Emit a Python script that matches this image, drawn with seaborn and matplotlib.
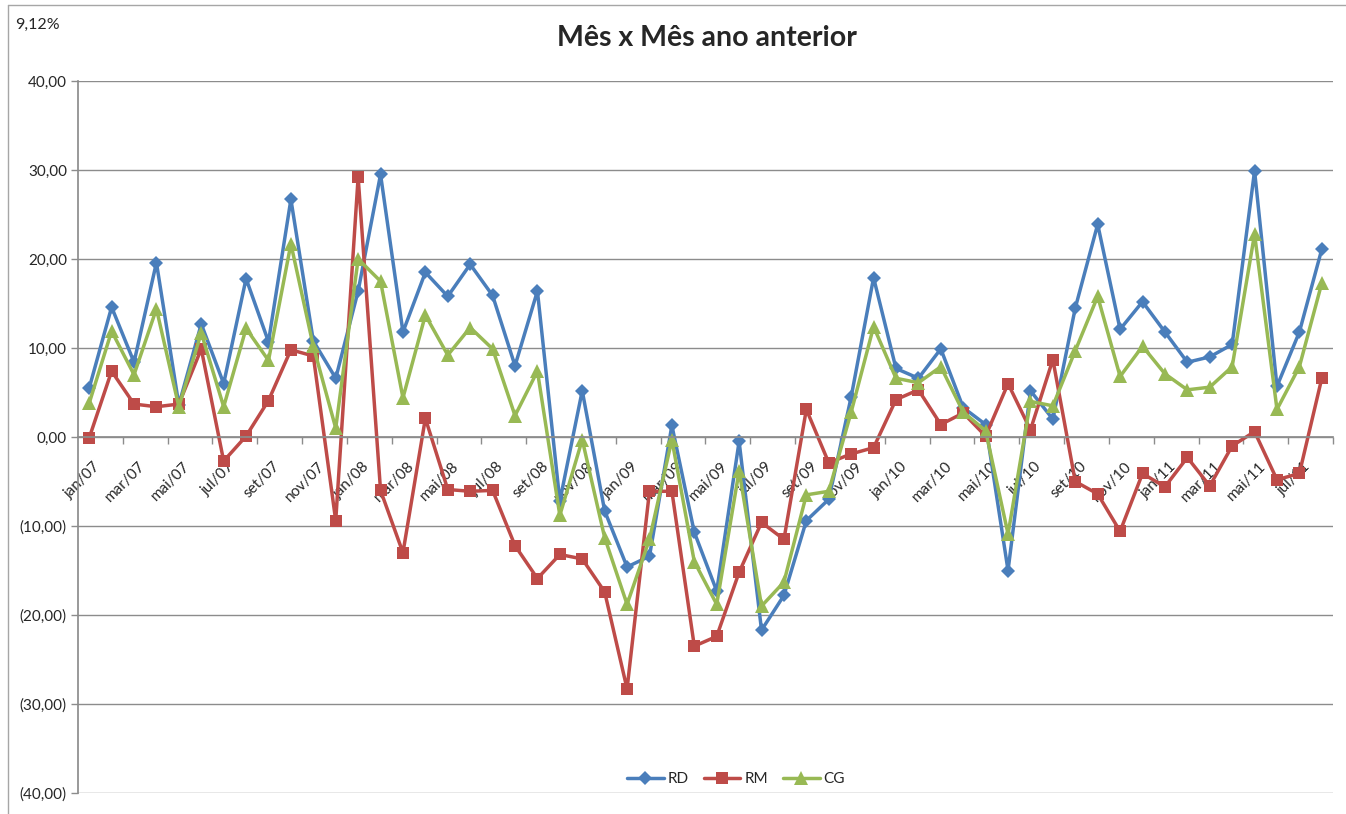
import numpy as np
import pandas as pd
import matplotlib
matplotlib.use("Agg")
import matplotlib.pyplot as plt
import matplotlib.transforms as mtransforms
from matplotlib.lines import Line2D
from matplotlib.ticker import FuncFormatter
import seaborn as sns

# ---- dados ----
meses = ["jan", "fev", "mar", "abr", "mai", "jun", "jul", "ago", "set", "out", "nov", "dez"]
anos = ["07", "08", "09", "10", "11"]
periodos = [f"{m}/{a}" for a in anos for m in meses][:56]  # jan/07 .. ago/11

rd = [5.5, 14.6, 8.4, 19.6, 3.6, 12.7, 6.0, 17.8, 10.7, 26.7,
      10.8, 6.6, 16.4, 29.5, 11.8, 18.5, 15.8, 19.4, 15.9, 8.0,
      16.4, -7.2, 5.2, -8.3, -14.6, -13.4, 1.3, -10.7, -17.3, -0.5,
      -21.7, -17.8, -9.4, -7.0, 4.5, 17.9, 7.7, 6.6, 9.9, 3.3,
      1.4, -15.0, 5.2, 2.0, 14.5, 23.9, 12.1, 15.2, 11.8, 8.4,
      9.0, 10.4, 29.9, 5.7, 11.8, 21.1]
rm = [-0.1, 7.4, 3.7, 3.4, 3.7, 9.9, -2.7, 0.1, 4.1, 9.8,
      9.1, -9.4, 29.2, -6.0, -13.0, 2.1, -5.9, -6.1, -6.0, -12.2,
      -15.9, -13.2, -13.7, -17.4, -28.3, -6.1, -6.1, -23.5, -22.4, -15.2,
      -9.6, -11.5, 3.1, -2.9, -1.9, -1.2, 4.2, 5.3, 1.4, 2.7,
      0.1, 6.0, 0.8, 8.7, -5.0, -6.4, -10.6, -4.1, -5.6, -2.3,
      -5.5, -1.0, 0.6, -4.8, -4.1, 6.6]
cg = [3.8, 11.9, 7.0, 14.4, 3.4, 11.7, 3.4, 12.2, 8.6, 21.7,
      10.2, 1.0, 20.0, 17.5, 4.4, 13.7, 9.2, 12.3, 9.9, 2.4,
      7.4, -8.8, -0.3, -11.3, -18.8, -11.5, -0.3, -14.0, -18.8, -3.8,
      -19.0, -16.3, -6.5, -6.1, 2.8, 12.4, 6.6, 6.1, 7.9, 2.8,
      0.7, -10.9, 4.0, 3.5, 9.7, 15.8, 6.8, 10.2, 7.1, 5.3,
      5.6, 7.9, 22.8, 3.1, 7.9, 17.3]

series = ["RD", "RM", "CG"]
cores = {"RD": "#4A7EBB", "RM": "#BE4B48", "CG": "#98B954"}
marcadores = {"RD": "D", "RM": "s", "CG": "^"}
tamanhos = {"RD": 7.5, "RM": 8.5, "CG": 9.5}

df = pd.DataFrame({"idx": np.arange(len(periodos)), "periodo": periodos,
                   "RD": rd, "RM": rm, "CG": cg})
df_long = df.melt(id_vars=["idx", "periodo"], value_vars=series,
                  var_name="serie", value_name="valor")

sns.set_theme(style="white")
plt.rcParams["font.family"] = ["Lato", "DejaVu Sans"]

W, H = 1346, 814
fig = plt.figure(figsize=(W / 100, H / 100), dpi=100)
ax = fig.add_axes([78 / W, 1 - 793 / H, (1333 - 78) / W, (793 - 81) / H])

for s in series:
    sns.lineplot(data=df_long[df_long["serie"] == s], x="idx", y="valor",
                 color=cores[s], marker=marcadores[s], markersize=tamanhos[s],
                 markeredgewidth=0, linewidth=2.5, label=s, ax=ax, legend=False)

# eixo x cruzando no zero (antes de mexer nos ticks, set_position reseta)
ax.spines["top"].set_visible(False)
ax.spines["right"].set_visible(False)
ax.spines["left"].set_color("#8c8c8c")
ax.spines["bottom"].set_color("#8c8c8c")
ax.spines["bottom"].set_position(("data", 0))

ax.set_xlim(-0.5, len(periodos) - 0.5)
ax.set_ylim(-40, 40)
ax.set_yticks(np.arange(-40, 41, 10))


def fmt_br(v, pos):
    txt = f"{abs(v):.2f}".replace(".", ",")
    return f"({txt})" if v < 0 else txt


ax.yaxis.set_major_formatter(FuncFormatter(fmt_br))
ax.yaxis.grid(True, color="#8c8c8c", linewidth=1)
ax.xaxis.grid(False)

ax.set_xticks(df["idx"][::2])
ax.set_xticklabels(df["periodo"][::2], fontsize=11)
ax.set_xticks(np.arange(1.5, len(periodos), 2), minor=True)
ax.tick_params(axis="x", which="major", length=0, pad=16)
ax.tick_params(axis="x", which="minor", bottom=True, length=5, width=1,
               color="#8c8c8c", direction="out")
ax.tick_params(axis="y", left=True, length=5, width=1, color="#8c8c8c",
               direction="out", labelsize=11, pad=3)
desloc = mtransforms.ScaledTranslation(4 / 100, 0, fig.dpi_scale_trans)
for lbl in ax.get_xticklabels():
    lbl.set_rotation(45)
    lbl.set_ha("right")
    lbl.set_va("top")
    lbl.set_rotation_mode("anchor")
    lbl.set_transform(lbl.get_transform() + desloc)

ax.set_xlabel("")
ax.set_ylabel("")

handles, labels = ax.get_legend_handles_labels()
ax.legend(handles, labels, loc="center", ncol=3, frameon=False,
          bbox_to_anchor=((736 - 78) / 1255, 14 / 712), fontsize=11,
          handlelength=2.4, columnspacing=1.0, handletextpad=0.25)

fig.text(707 / W, 1 - 38 / H, "Mês x Mês ano anterior", ha="center",
         va="center", fontsize=20.5, fontweight="bold")
fig.text(15 / W, 1 - 25 / H, "9,12%", ha="left", va="center", fontsize=11.5)

# moldura da area do grafico
fig.add_artist(Line2D([8 / W, 8 / W], [0, 1 - 5 / H], transform=fig.transFigure,
                      color="#a6a6a6", linewidth=1))
fig.add_artist(Line2D([8 / W, 1], [1 - 5 / H, 1 - 5 / H], transform=fig.transFigure,
                      color="#a6a6a6", linewidth=1))

fig.savefig("out.png", dpi=100)
